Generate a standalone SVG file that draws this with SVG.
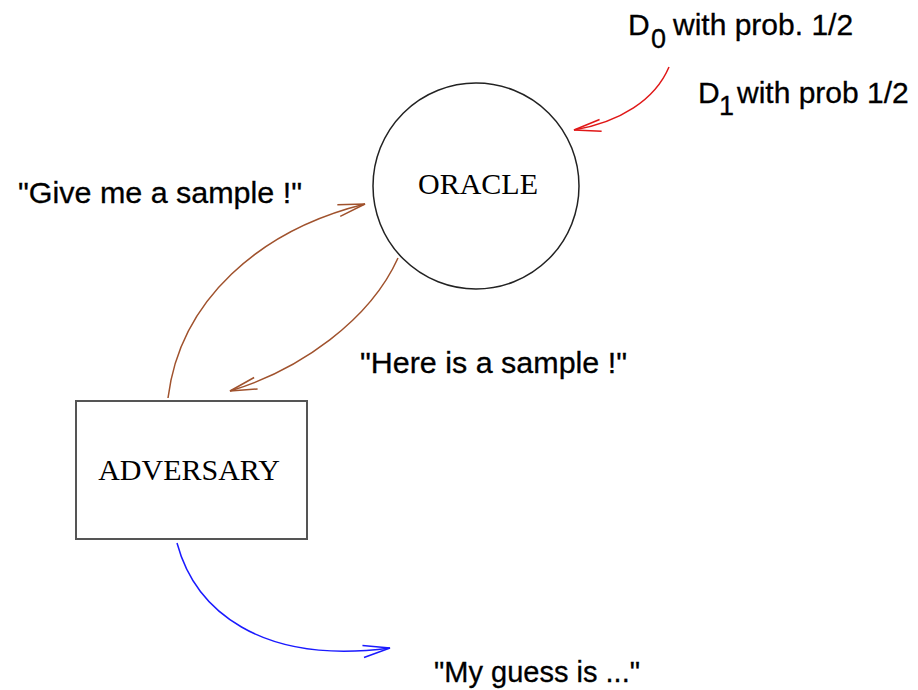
<svg xmlns="http://www.w3.org/2000/svg" width="918" height="690" viewBox="0 0 918 690">
<style>
.sans{font-family:"Liberation Sans",Arial,sans-serif;font-size:30px;fill:#000;stroke:#000;stroke-width:0.3}
.sub{font-family:"Liberation Sans",Arial,sans-serif;font-size:27px;fill:#000;stroke:#000;stroke-width:0.3}
.serif{font-family:"Liberation Serif","Times New Roman",serif;font-size:30px;fill:#000}
.conn{fill:none;stroke-width:1.5}
</style>
<defs>
<marker id="ah-red" markerUnits="userSpaceOnUse" markerWidth="40" markerHeight="20" refX="0" refY="0" viewBox="-30 -10 40 20" orient="auto" overflow="visible"><path d="M-27,-6 L0,0 L-27,6" fill="none" stroke="#e01818" stroke-width="1.5"/></marker>
<marker id="ah-brown" markerUnits="userSpaceOnUse" markerWidth="40" markerHeight="20" refX="0" refY="0" viewBox="-30 -10 40 20" orient="auto" overflow="visible"><path d="M-27,-6 L0,0 L-27,6" fill="none" stroke="#a0522d" stroke-width="1.5"/></marker>
<marker id="ah-blue" markerUnits="userSpaceOnUse" markerWidth="40" markerHeight="20" refX="0" refY="0" viewBox="-30 -10 40 20" orient="auto" overflow="visible"><path d="M-27,-6 L0,0 L-27,6" fill="none" stroke="#1a1aff" stroke-width="1.5"/></marker>
</defs>
<rect width="918" height="690" fill="#fff"/>
<g id="oracle">
<circle cx="476" cy="186" r="103" fill="#fff" stroke="#222" stroke-width="1.5"/>
<text class="serif" x="478" y="194" text-anchor="middle">ORACLE</text>
</g>
<g id="adversary">
<rect x="76" y="401" width="231" height="138" fill="#fff" stroke="#555" stroke-width="2"/>
<text class="serif" x="189" y="480" text-anchor="middle">ADVERSARY</text>
</g>
<g id="labels">
<text class="sans" x="628" y="35">D</text><text class="sub" x="651" y="48">0</text><text class="sans" x="673" y="35">with prob. 1/2</text>
<text class="sans" x="698" y="103">D</text><text class="sub" x="719" y="115">1</text><text class="sans" x="737" y="103">with prob 1/2</text>
<text class="sans" x="18" y="203" textLength="284" lengthAdjust="spacingAndGlyphs">"Give me a sample !"</text>
<text class="sans" x="360" y="373" textLength="267" lengthAdjust="spacingAndGlyphs">"Here is a sample !"</text>
<text class="sans" x="434" y="682" textLength="206" lengthAdjust="spacingAndGlyphs">"My guess is ..."</text>
</g>
<g id="connectors">
<path class="conn" stroke="#e01818" d="M669,67 C655,100 620,122 574,130" marker-end="url(#ah-red)"/>
<path class="conn" stroke="#a0522d" d="M168,398 C180,300 260,230 365,204" marker-end="url(#ah-brown)"/>
<path class="conn" stroke="#a0522d" d="M398,258 C370,320 300,370 230,391" marker-end="url(#ah-brown)"/>
<path class="conn" stroke="#1a1aff" d="M177,543 C195,610 260,665 390,648" marker-end="url(#ah-blue)"/>
</g>
</svg>
